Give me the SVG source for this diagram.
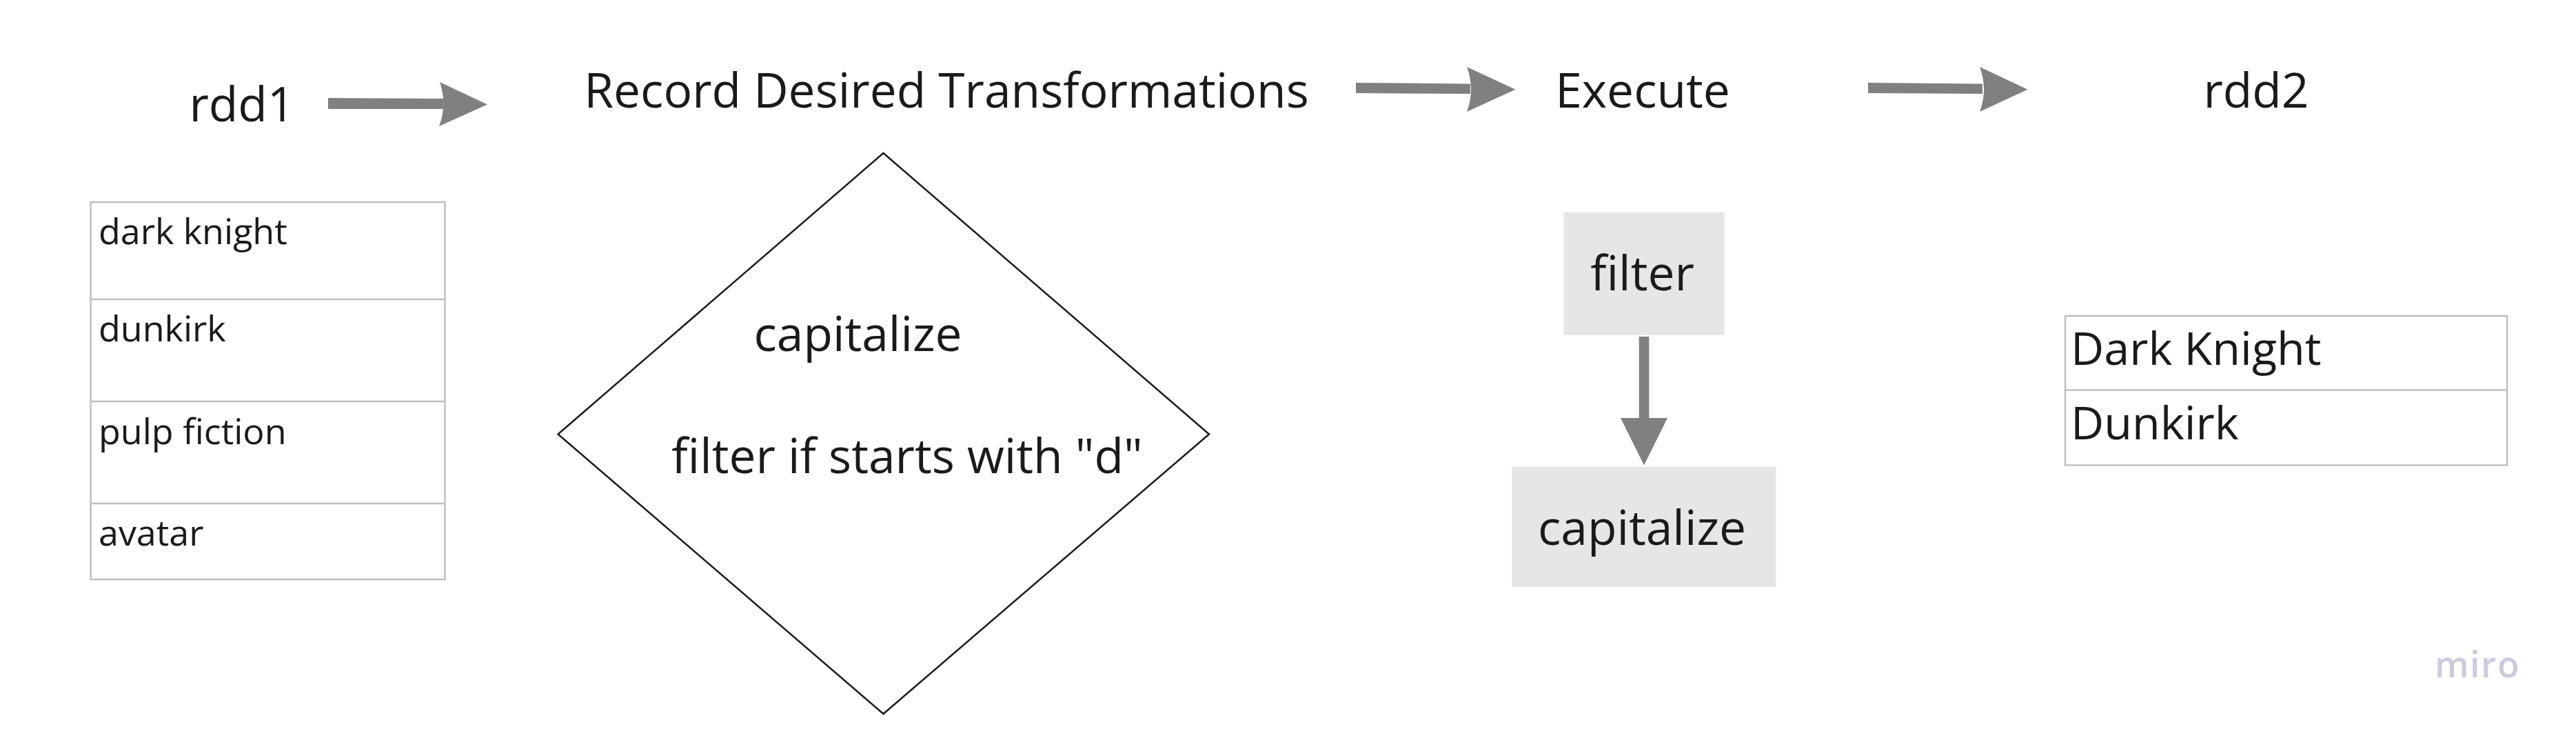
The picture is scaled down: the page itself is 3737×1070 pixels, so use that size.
<svg xmlns="http://www.w3.org/2000/svg" width="3737" height="1070" viewBox="0 0 3737 1070">
<style>
.t{font-family:"Open Sans","Noto Sans","DejaVu Sans",sans-serif;fill:#1a1a1a}
.h{font-size:69.5px;text-anchor:middle}
.r1{font-size:52px}
.r2{font-size:66.5px}
.tbl{fill:#ffffff;stroke:#bfbfbf;stroke-width:2.5}
.div{stroke:#bfbfbf;stroke-width:2.5}
.box{fill:#e6e6e6}
.conn{fill:#808080;stroke:none}
.logo{font-family:"Open Sans","Noto Sans",sans-serif;font-weight:600;font-size:52px;fill:#cbcbdb;letter-spacing:1.5px}
</style>
<rect width="3737" height="1070" fill="#ffffff"/>
<g id="rdd1"><text class="t h" x="351" y="176">rdd1</text></g>
<g id="rdd1-table">
<rect class="tbl" x="131.5" y="293" width="514" height="547"/>
<line class="div" x1="131.5" y1="434" x2="645.5" y2="434"/>
<line class="div" x1="131.5" y1="582" x2="645.5" y2="582"/>
<line class="div" x1="131.5" y1="730" x2="645.5" y2="730"/>
<text class="t r1" x="143" y="354">dark knight</text>
<text class="t r1" x="143" y="495">dunkirk</text>
<text class="t r1" x="143" y="643.5">pulp fiction</text>
<text class="t r1" x="143" y="791">avatar</text>
</g>
<g id="record"><text class="t h" x="1373" y="156">Record Desired Transformations</text></g>
<g id="diamond">
<polygon points="1281.5,222 1754,629.5 1281.5,1035 809.5,629.5" fill="none" stroke="#1a1a1a" stroke-width="2.5"/>
<text class="t h" x="1244.5" y="508.5">capitalize</text>
<text class="t h" x="1316" y="686">filter if starts with "d"</text>
</g>
<g id="execute"><text class="t h" x="2383" y="156">Execute</text></g>
<g id="filter-box">
<rect class="box" x="2268.5" y="308" width="233" height="178"/>
<text class="t h" x="2382.5" y="421">filter</text>
</g>
<g id="capitalize-box">
<rect class="box" x="2193.5" y="677" width="383" height="174"/>
<text class="t h" x="2382" y="790">capitalize</text>
</g>
<g id="rdd2"><text class="t h" x="3273" y="156">rdd2</text></g>
<g id="rdd2-table">
<rect class="tbl" x="2996" y="458" width="641" height="216.5"/>
<line class="div" x1="2996" y1="565.5" x2="3637" y2="565.5"/>
<text class="t r2" x="3004" y="529">Dark Knight</text>
<text class="t r2" x="3004" y="637">Dunkirk</text>
</g>
<g id="connectors">
<path class="conn" d="M476,142 L643,143 L643,158 L476,158 Z"/>
<path class="conn" d="M638,119 L707,151.5 L637,183 Q649,151 638,119 Z"/>
<path class="conn" d="M1967,120 L2133,121.5 L2133,136 L1967,135 Z"/>
<path class="conn" d="M2128,97 L2198.5,129.7 L2128,162 Q2140,129.5 2128,97 Z"/>
<path class="conn" d="M2710,120 L2876,121.5 L2876,136 L2710,135 Z"/>
<path class="conn" d="M2872,97 L2941.5,129.7 L2872,162 Q2884,129.5 2872,97 Z"/>
<path class="conn" d="M2377.7,488 L2392.3,488 L2392.3,607 L2377.7,607 Z"/>
<path class="conn" d="M2351,606 L2419,606 L2385,674.5 Z"/>
</g>
<g id="watermark"><text class="logo" x="3532" y="982">miro</text></g>
</svg>
